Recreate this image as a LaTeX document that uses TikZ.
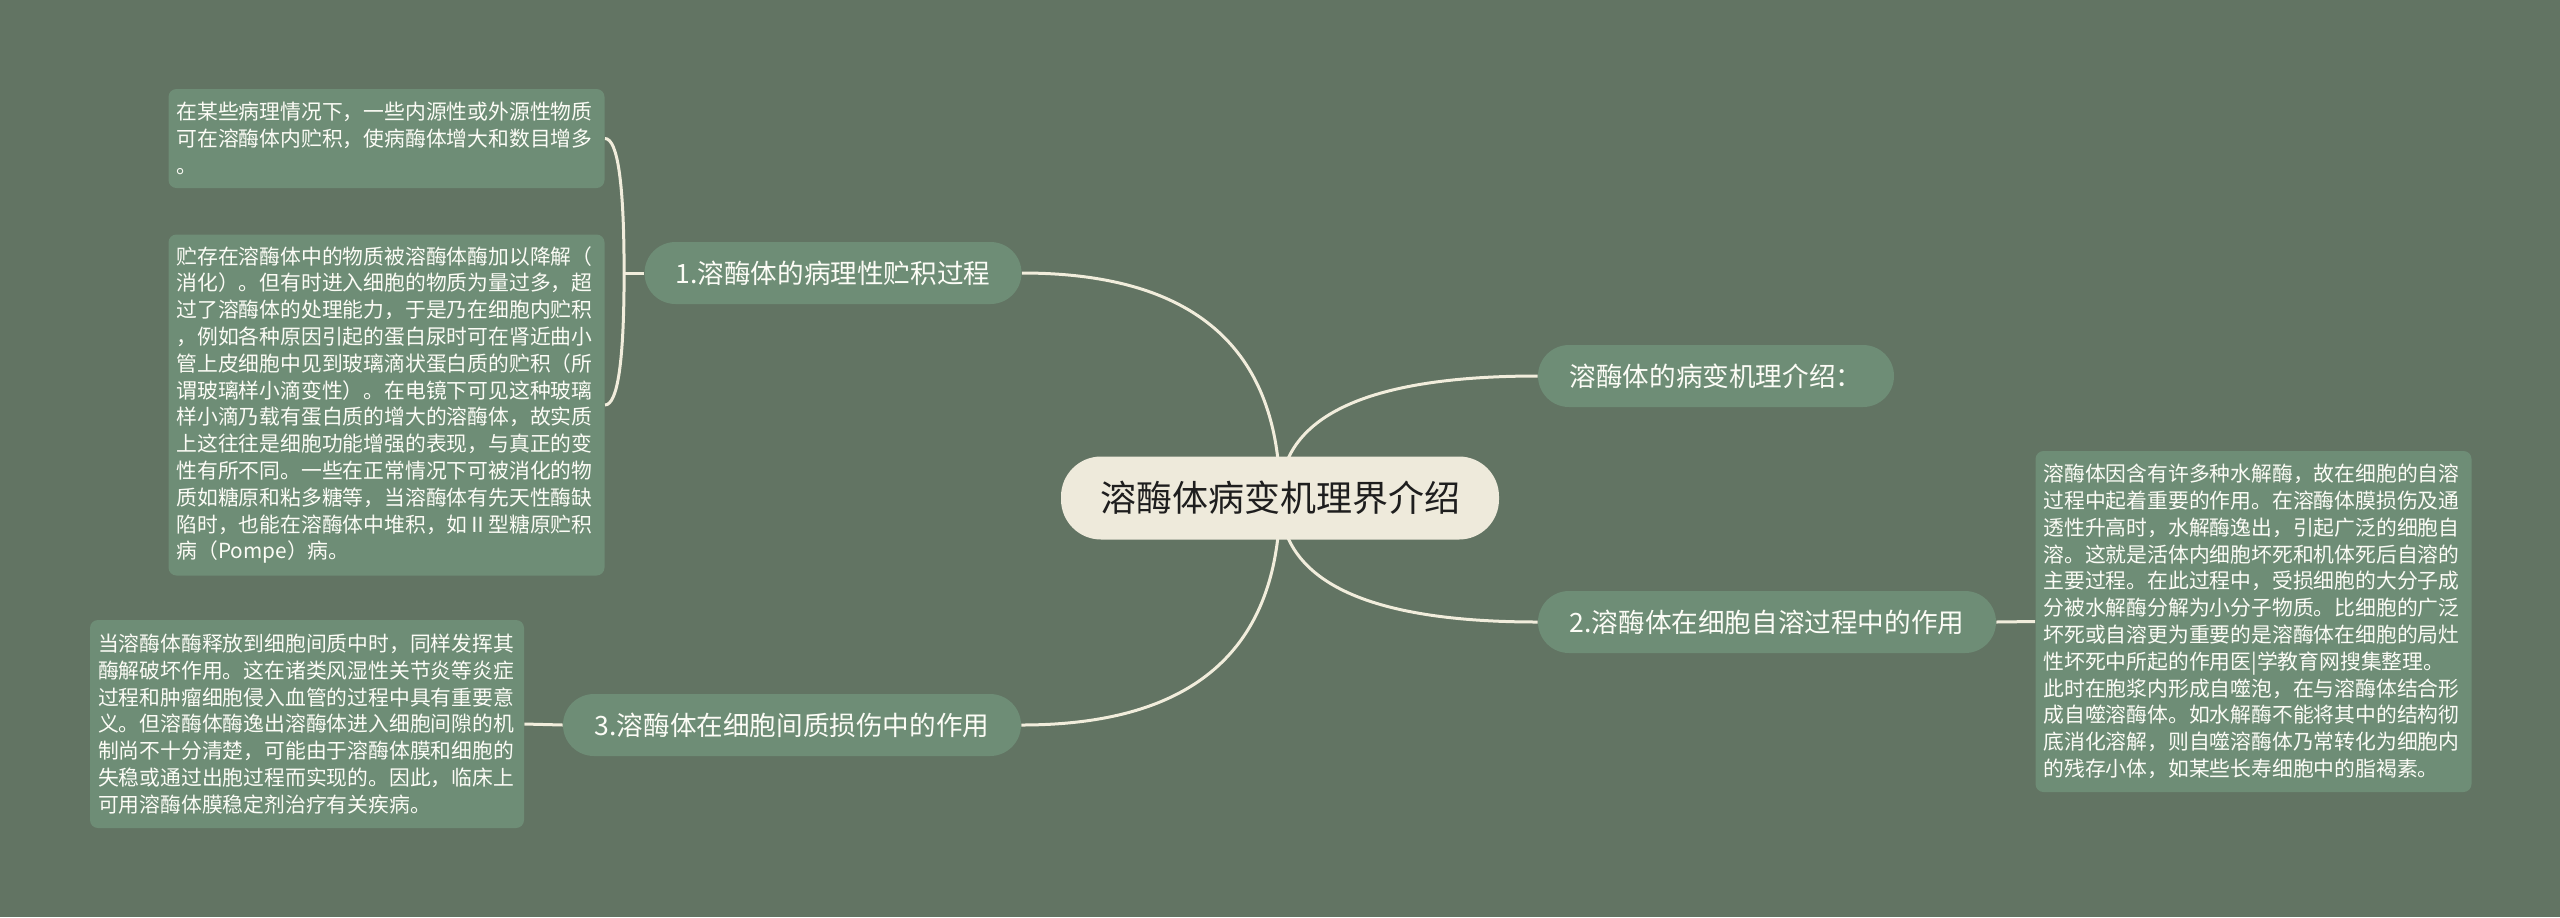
\documentclass[tikz,border=0pt]{standalone}
\usepackage{fontspec}
\newfontfamily\cjk{Noto Sans CJK SC}
\usetikzlibrary{calc}
\pgfdeclarelayer{bg}
\pgfdeclarelayer{edges}
\pgfsetlayers{bg,edges,main}
\definecolor{bgc}{RGB}{98,116,99}
\definecolor{nodec}{RGB}{110,141,118}
\definecolor{rootc}{RGB}{238,234,219}
\definecolor{linec}{RGB}{241,237,220}
\definecolor{roottext}{RGB}{30,30,30}
\definecolor{nodetext}{RGB}{252,252,246}
\begin{document}
\begin{tikzpicture}[x=0.5pt,y=-0.5pt,
  root/.style={fill=rootc, rounded corners=20pt, minimum width=219pt, minimum height=41.5pt, inner sep=0pt, text=roottext, font=\cjk\fontsize{18}{22}\selectfont},
  topic/.style={fill=nodec, rounded corners=15.5pt, minimum height=31pt, inner sep=0pt, text=nodetext, font=\cjk\fontsize{13.3}{16}\selectfont},
  note/.style={fill=nodec, rounded corners=4pt, inner xsep=4pt, inner ysep=0pt, text width=210pt, align=left, text=nodetext, font=\cjk\fontsize{10.4}{13.4}\selectfont},
  conn/.style={draw=linec, line width=1.5pt}]
\useasboundingbox (0,0) rectangle (2560,917);
\begin{pgfonlayer}{bg}
\fill[bgc] (0,0) rectangle (2560,917);
\end{pgfonlayer}

\node[root] (c) at (1280,498) {溶酶体病变机理界介绍};
\node[topic, minimum width=188.5pt] (n1) at (833,273) {1.溶酶体的病理性贮积过程};
\node[topic, minimum width=178pt] (n0) at (1716,376) {溶酶体的病变机理介绍：};
\node[topic, minimum width=229pt] (n2) at (1767,622) {2.溶酶体在细胞自溶过程中的作用};
\node[topic, minimum width=229pt] (n3) at (792,725) {3.溶酶体在细胞间质损伤中的作用};

\node[note, minimum height=49.5pt] (b1) at (386.5,138.5) {在某些病理情况下，一些内源性或外源性物质\\可在溶酶体内贮积，使病酶体增大和数目增多\\。};
\node[note, minimum height=170.5pt] (b2) at (386.5,405) {贮存在溶酶体中的物质被溶酶体酶加以降解（\\消化）。但有时进入细胞的物质为量过多，超\\过了溶酶体的处理能力，于是乃在细胞内贮积\\，例如各种原因引起的蛋白尿时可在肾近曲小\\管上皮细胞中见到玻璃滴状蛋白质的贮积（所\\谓玻璃样小滴变性）。在电镜下可见这种玻璃\\样小滴乃载有蛋白质的增大的溶酶体，故实质\\上这往往是细胞功能增强的表现，与真正的变\\性有所不同。一些在正常情况下可被消化的物\\质如糖原和粘多糖等，当溶酶体有先天性酶缺\\陷时，也能在溶酶体中堆积，如Ⅱ型糖原贮积\\病（Pompe）病。};
\node[note, minimum height=104pt, text width=209pt] (b3) at (307,724) {当溶酶体酶释放到细胞间质中时，同样发挥其\\酶解破坏作用。这在诸类风湿性关节炎等炎症\\过程和肿瘤细胞侵入血管的过程中具有重要意\\义。但溶酶体酶逸出溶酶体进入细胞间隙的机\\制尚不十分清楚，可能由于溶酶体膜和细胞的\\失稳或通过出胞过程而实现的。因此，临床上\\可用溶酶体膜稳定剂治疗有关疾病。};
\node[note, minimum height=170.5pt] (b4) at (2253.5,621.5) {溶酶体因含有许多种水解酶，故在细胞的自溶\\过程中起着重要的作用。在溶酶体膜损伤及通\\透性升高时，水解酶逸出，引起广泛的细胞自\\溶。这就是活体内细胞坏死和机体死后自溶的\\主要过程。在此过程中，受损细胞的大分子成\\分被水解酶分解为小分子物质。比细胞的广泛\\坏死或自溶更为重要的是溶酶体在细胞的局灶\\性坏死中所起的作用医|学教育网搜集整理。\\此时在胞浆内形成自噬泡，在与溶酶体结合形\\成自噬溶酶体。如水解酶不能将其中的结构彻\\底消化溶解，则自噬溶酶体乃常转化为细胞内\\的残存小体，如某些长寿细胞中的脂褐素。};

\coordinate (j1) at ($(n1.west)+(-20,0)$);

\begin{pgfonlayer}{edges}
\draw[conn] (c.center) .. controls ($(c.center)!0.667!(c.center |- n1.east)$) and ($(n1.east)!0.667!(c.center |- n1.east)$) .. (n1.east);
\draw[conn] (c.center) .. controls ($(c.center)!0.667!(c.center |- n0.west)$) and ($(n0.west)!0.667!(c.center |- n0.west)$) .. (n0.west);
\draw[conn] (c.center) .. controls ($(c.center)!0.667!(c.center |- n2.west)$) and ($(n2.west)!0.667!(c.center |- n2.west)$) .. (n2.west);
\draw[conn] (c.center) .. controls ($(c.center)!0.667!(c.center |- n3.east)$) and ($(n3.east)!0.667!(c.center |- n3.east)$) .. (n3.east);
\draw[conn] (n1.west) -- (j1);
\draw[conn] (j1) .. controls ($(j1)!0.667!(j1 |- b1.east)$) and ($(b1.east)!0.667!(j1 |- b1.east)$) .. (b1.east);
\draw[conn] (j1) .. controls ($(j1)!0.667!(j1 |- b2.east)$) and ($(b2.east)!0.667!(j1 |- b2.east)$) .. (b2.east);
\draw[conn] (n2.east) -- (b4.west);
\draw[conn] (b3.east) -- (n3.west);
\end{pgfonlayer}
\end{tikzpicture}
\end{document}
